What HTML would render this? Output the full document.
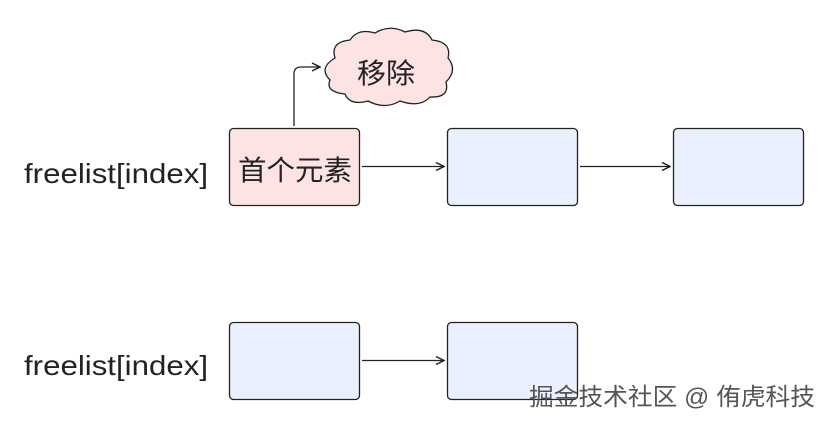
<!DOCTYPE html>
<html><head><meta charset="utf-8"><style>
body{margin:0;width:830px;height:425px;background:#fff;overflow:hidden}
svg{display:block}
text{font-family:"Liberation Sans","Noto Sans CJK SC",sans-serif;fill:#222}
</style></head><body>
<svg width="830" height="425" viewBox="0 0 830 425">
<defs><marker id="a" markerWidth="10" markerHeight="10" refX="9" refY="5" orient="auto" markerUnits="userSpaceOnUse"><path d="M1,1 L9,5 L1,9" fill="none" stroke="#222" stroke-width="1.5"/></marker></defs>
<text x="24" y="183" font-size="28" textLength="184" lengthAdjust="spacingAndGlyphs">freelist[index]</text>
<text x="24" y="375" font-size="28" textLength="184" lengthAdjust="spacingAndGlyphs">freelist[index]</text>
<rect x="229.5" y="128.5" width="130" height="77" rx="4" fill="#fde3e3" stroke="#222" stroke-width="1.3"/>
<text x="238" y="180" font-size="28" textLength="114" lengthAdjust="spacingAndGlyphs">首个元素</text>
<rect x="447.5" y="128.5" width="130" height="77" rx="4" fill="#eaf0fd" stroke="#222" stroke-width="1.3"/>
<rect x="673.5" y="128.5" width="130" height="77" rx="4" fill="#eaf0fd" stroke="#222" stroke-width="1.3"/>
<rect x="229.5" y="322.5" width="130" height="77" rx="4" fill="#eaf0fd" stroke="#222" stroke-width="1.3"/>
<rect x="447.5" y="322.5" width="130" height="77" rx="4" fill="#eaf0fd" stroke="#222" stroke-width="1.3"/>
<g stroke="#222" stroke-width="1.3" fill="none">
<path d="M362,166.5 H444" marker-end="url(#a)"/>
<path d="M580,166.5 H670" marker-end="url(#a)"/>
<path d="M362,360.5 H444" marker-end="url(#a)"/>
<path d="M294,126 V74 Q294,67 301,67 H320" marker-end="url(#a)"/>
</g>
<path d="M335,58 Q330,42 350,40 Q358,28 375,33 Q390,24 405,32 Q425,26 432,40 Q452,42 448,58 Q458,70 446,82 Q450,98 430,97 Q420,108 400,101 Q385,110 368,101 Q350,106 345,94 Q325,92 330,80 Q318,68 335,58 Z" fill="#fde3e3" stroke="#222" stroke-width="1.3"/>
<text x="357" y="83" font-size="28" textLength="58" lengthAdjust="spacingAndGlyphs">移除</text>
<text x="529" y="405" font-size="24" textLength="286" lengthAdjust="spacingAndGlyphs" style="fill:#555">掘金技术社区 @ 侑虎科技</text>
</svg>
</body></html>
